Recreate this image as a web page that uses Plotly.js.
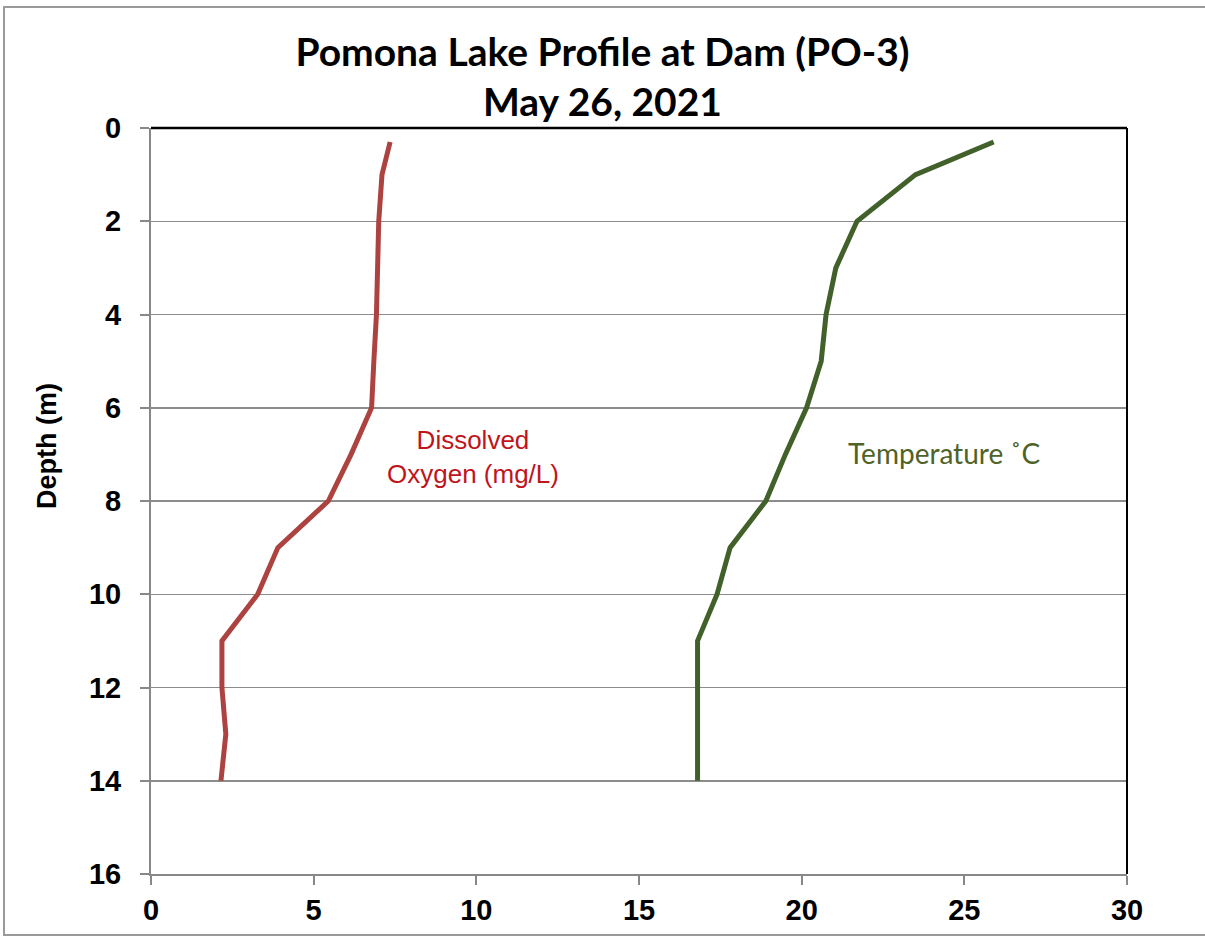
<!DOCTYPE html>
<html>
<head>
<meta charset="utf-8">
<script src="https://cdn.plot.ly/plotly-3.0.1.min.js"></script>
<style>html,body{margin:0;padding:0;background:#fff;}#chart{width:1205px;height:943px;}</style>
</head>
<body>
<div id="chart"></div>
<script>
const depth = [0.3, 1, 2, 3, 4, 5, 6, 7, 8, 9, 10, 11, 12, 13, 14];
const dissolvedOxygen = [7.35, 7.1, 7.0, 6.97, 6.93, 6.85, 6.78, 6.15, 5.45, 3.9, 3.28, 2.18, 2.18, 2.3, 2.15];
const temperature = [25.9, 23.5, 21.7, 21.05, 20.75, 20.6, 20.15, 19.5, 18.9, 17.8, 17.4, 16.8, 16.8, 16.8, 16.8];
const xTicks = [0, 5, 10, 15, 20, 25, 30];
const yTicks = [0, 2, 4, 6, 8, 10, 12, 14, 16];

const traces = [
  {x: dissolvedOxygen, y: depth, mode: 'lines', name: 'Dissolved Oxygen (mg/L)',
   line: {color: '#ad4340', width: 5}},
  {x: temperature, y: depth, mode: 'lines', name: 'Temperature °C',
   line: {color: '#41602a', width: 5}}
];

const tickFont = {family: 'Liberation Sans', size: 29, color: '#000', weight: 'bold'};

const layout = {
  width: 1205, height: 943,
  margin: {l: 151, r: 78, t: 128, b: 69},
  paper_bgcolor: '#ffffff', plot_bgcolor: '#ffffff',
  showlegend: false,
  title: {text: 'Pomona Lake Profile at Dam (PO-3)<br>May 26, 2021',
          font: {family: 'Lato', size: 39, color: '#000', weight: 'bold'},
          x: 0.5, xanchor: 'center', y: 0.9305, yanchor: 'middle', yref: 'container'},
  xaxis: {range: [0, 30], tickvals: xTicks, ticks: 'outside', ticklen: 9, tickcolor: '#888',
          tickwidth: 2, showline: true, linecolor: '#888', linewidth: 2, showgrid: false,
          zeroline: false, tickfont: tickFont},
  yaxis: {range: [16, 0], tickvals: yTicks, ticks: 'outside', ticklen: 9, tickcolor: '#888',
          tickwidth: 2, showline: true, linecolor: '#888', linewidth: 2, showgrid: true,
          gridcolor: '#8c8c8c', gridwidth: 1.5, zeroline: false, tickfont: tickFont,
          ticklabelstandoff: 13},
  shapes: [
    {type: 'line', xref: 'paper', yref: 'paper', x0: 0, x1: 1, y0: 1, y1: 1, line: {color: '#000', width: 2.5}},
    {type: 'line', xref: 'paper', yref: 'paper', x0: 1, x1: 1, y0: 0, y1: 1, line: {color: '#000', width: 2}},
    {type: 'rect', xref: 'paper', yref: 'paper', x0: -0.1506, x1: 1.2, y0: -0.0818, y1: 1.1622,
     line: {color: '#9a9a9a', width: 2}, layer: 'below'}
  ],
  annotations: [
    {x: -0.1066, y: 0.5737, xref: 'paper', yref: 'paper', xanchor: 'center', yanchor: 'middle',
     text: 'Depth (m)', showarrow: false, textangle: -90,
     font: {family: 'Liberation Sans', size: 27, color: '#000', weight: 'bold'}},
    {x: 9.9, y: 7.05, xref: 'x', yref: 'y', text: 'Dissolved<br>Oxygen (mg/L)', showarrow: false,
     font: {family: 'Liberation Sans', size: 26, color: '#c0141b'}, align: 'center'},
    {x: 24.4, y: 6.97, xref: 'x', yref: 'y', text: 'Temperature ˚C', showarrow: false,
     font: {family: 'Lato', size: 28, color: '#4f6228'}, align: 'center'}
  ]
};

Plotly.newPlot('chart', traces, layout, {displayModeBar: false, staticPlot: true});
</script>
</body>
</html>
